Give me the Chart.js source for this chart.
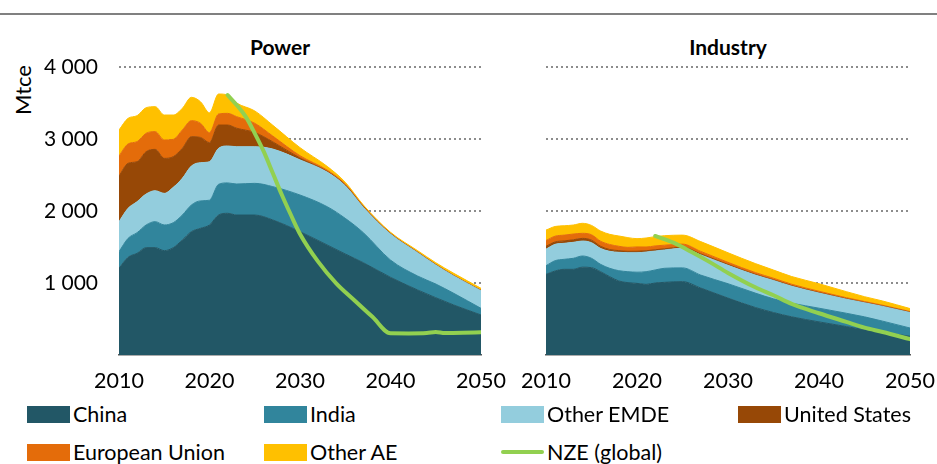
<!DOCTYPE html>
<html><head><meta charset="utf-8">
<script src="https://cdn.jsdelivr.net/npm/chart.js@4.4.0/dist/chart.umd.min.js"></script>
<style>
html,body{margin:0;padding:0;background:#fff;}
#wrap{position:relative;width:937px;height:464px;overflow:hidden;font-family:Lato,'Open Sans',sans-serif;color:#000;}
.topline{position:absolute;left:0;top:13px;width:937px;height:2px;background:#808080;}
canvas{position:absolute;top:0;}
.title{position:absolute;font-weight:bold;font-size:21px;transform:translate(-50%,-50%);top:46px;white-space:nowrap;}
.ylab{position:absolute;left:22px;top:90px;transform:translate(-50%,-50%) rotate(-90deg);font-size:22px;}
.leg{position:absolute;font-size:21.5px;display:flex;align-items:center;transform:translateY(-50%);white-space:nowrap;}
.sw{width:43px;height:17px;margin-right:3px;}
.ln{width:43px;height:4px;border-radius:2px;margin-right:3px;}
</style></head>
<body><div id="wrap">
<div class="topline"></div>
<div class="title" style="left:280px">Power</div>
<div class="title" style="left:728px">Industry</div>
<div class="ylab">Mtce</div>
<canvas id="c1" width="512" height="400" style="left:0;width:512px;height:400px"></canvas>
<canvas id="c2" width="447" height="400" style="left:490px;width:447px;height:400px"></canvas>
<div id="legend"></div>
</div>
<script>
// ---- data ----
const years = [2010,2011,2012,2013,2014,2015,2016,2017,2018,2019,2020,2021,2022,2023,2025,2027,2030,2033,2035,2037,2040,2043,2045,2047,2050];
const seriesNames = ['China','India','Other EMDE','United States','European Union','Other AE'];
const nzeName = 'NZE (global)';
const xTicks = [2010,2020,2030,2040,2050];
const yTicks = [0,1000,2000,3000,4000];

// Power (Mtce)
const powerChina = [1204,1357,1412,1491,1491,1449,1491,1597,1713,1759,1806,1944,1968,1944,1944,1875,1713,1528,1403,1282,1079,903,796,694,556];
const powerIndia = [231,263,287,315,361,357,347,347,370,381,344,426,422,431,440,463,509,532,495,417,240,194,190,162,92];
const powerEMDE  = [417,417,431,430,430,439,491,510,542,531,535,500,513,518,509,522,488,480,452,351,361,324,264,241,245];
const powerUS    = [634,625,555,588,574,486,426,416,407,351,264,324,291,257,197,100,25,10,10,8,5,4,4,3,3];
const powerEU    = [278,269,278,255,246,255,240,255,223,196,139,153,162,160,128,80,33,18,15,8,5,4,4,3,3];
const powerAE    = [361,356,361,356,347,347,338,301,324,300,277,278,255,190,172,150,112,52,25,17,15,20,24,31,27];
const powerNzeYears = [2022,2023,2024,2025,2026,2027,2028,2029,2030,2032,2034,2036,2038,2040,2042,2044,2045,2046,2048,2050];
const powerNze      = [3611,3472,3310,3079,2824,2523,2222,1944,1681,1296,995,760,530,301,300,305,320,305,308,315];

// Industry (Mtce)
const indChina = [1120,1167,1190,1190,1220,1213,1157,1088,1028,1005,995,981,1000,1009,1019,930,790,660,590,530,460,395,350,315,260];
const indIndia = [120,143,139,153,155,130,102,116,143,152,155,176,181,195,191,180,200,200,190,190,190,185,180,155,115];
const indEMDE  = [230,227,222,222,208,217,221,236,255,264,271,273,263,254,271,280,255,250,255,235,210,195,195,205,215];
const indUS    = [40,33,34,35,37,35,30,25,24,19,20,18,18,17,16,14,12,10,9,8,7,6,5,5,4];
const indEU    = [80,80,80,80,70,75,70,70,60,55,60,52,53,50,43,35,30,25,22,20,18,15,13,11,10];
const indAE    = [145,135,130,125,139,130,142,141,143,135,115,125,129,132,125,136,133,125,114,107,105,84,67,59,41];
const indNzeYears = [2022,2024,2026,2028,2030,2033,2035,2037,2040,2043,2045,2047,2050];
const indNze      = [1653,1560,1430,1290,1140,940,830,710,580,460,380,320,220];

// ---- styles ----
const colors = ['#225766','#31859C','#93CDDD','#974806','#E46C0A','#FFC000'];
const nzeColor = '#92D050';
const FONT = 'Lato, "Open Sans", sans-serif';

function pts(xs, ys){ return xs.map((x,i)=>({x:x,y:ys[i]})); }
function fmt(v){ return v===0 ? '' : String(v).replace(/\B(?=(\d{3})+(?!\d))/g,' '); }

function makeChart(id, series, nzeX, nzeY, yAxisWidth, padRight, showY){
  const ds = [{
    label: nzeName, data: pts(nzeX,nzeY), stack:'nze', borderColor:nzeColor, backgroundColor:nzeColor,
    borderWidth:4, fill:false, pointRadius:0, cubicInterpolationMode:'monotone', borderCapStyle:'round', order:0
  }];
  series.forEach((s,i)=>{
    ds.push({label:seriesNames[i], data:pts(years,s), stack:'main', backgroundColor:colors[i], borderColor:colors[i],
      borderWidth:1, fill: i===0 ? 'origin' : '-1', pointRadius:0, cubicInterpolationMode:'monotone', order:1});
  });
  return new Chart(document.getElementById(id), {
    type:'line',
    data:{datasets:ds},
    options:{
      responsive:false, animation:false, devicePixelRatio:1,
      layout:{padding:{top:67,right:padRight,bottom:0,left:0}},
      plugins:{legend:{display:false}, tooltip:{enabled:false}},
      scales:{
        x:{type:'linear', min:xTicks[0], max:xTicks[xTicks.length-1],
           afterBuildTicks: s => { s.ticks = xTicks.map(v=>({value:v})); },
           afterFit: s => { s.height = 45; s.paddingLeft = 0; s.paddingRight = 0; },
           grid:{display:false, drawTicks:false},
           border:{display:true, color:'#595959', width:1.5},
           ticks:{padding:13, color:'#000', font:{family:FONT, size:21.5}, callback:v=>String(v), maxRotation:0}
        },
        y:{stacked:true, min:yTicks[0], max:yTicks[yTicks.length-1],
           afterBuildTicks: s => { s.ticks = yTicks.map(v=>({value:v})); },
           afterFit: s => { s.width = yAxisWidth; s.paddingTop = 0; s.paddingBottom = 0; },
           grid:{drawTicks:false, lineWidth:2, color: c => (c.tick && c.tick.value===0) ? 'rgba(0,0,0,0)' : '#8c8c8c'},
           border:{display:false, dash:[2,3]},
           ticks:{display:showY, padding:21, color:'#000', font:{family:FONT, size:21}, callback:fmt}
        }
      }
    }
  });
}

makeChart('c1', [powerChina,powerIndia,powerEMDE,powerUS,powerEU,powerAE], powerNzeYears, powerNze, 119, 31, true);
makeChart('c2', [indChina,indIndia,indEMDE,indUS,indEU,indAE], indNzeYears, indNze, 56, 27, false);

// ---- legend ----
const legPos = [[27,414],[264,414],[501,414],[738,414],[27,452],[264,452]];
const leg = document.getElementById('legend');
seriesNames.forEach((n,i)=>{
  const d = document.createElement('div'); d.className='leg';
  d.style.left = legPos[i][0]+'px'; d.style.top = legPos[i][1]+'px';
  d.innerHTML = '<div class="sw" style="background:'+colors[i]+'"></div><span>'+n+'</span>';
  leg.appendChild(d);
});
const dn = document.createElement('div'); dn.className='leg';
dn.style.left='501px'; dn.style.top='452px';
dn.innerHTML = '<div class="ln" style="background:'+nzeColor+'"></div><span>'+nzeName+'</span>';
leg.appendChild(dn);
</script>
</body></html>
